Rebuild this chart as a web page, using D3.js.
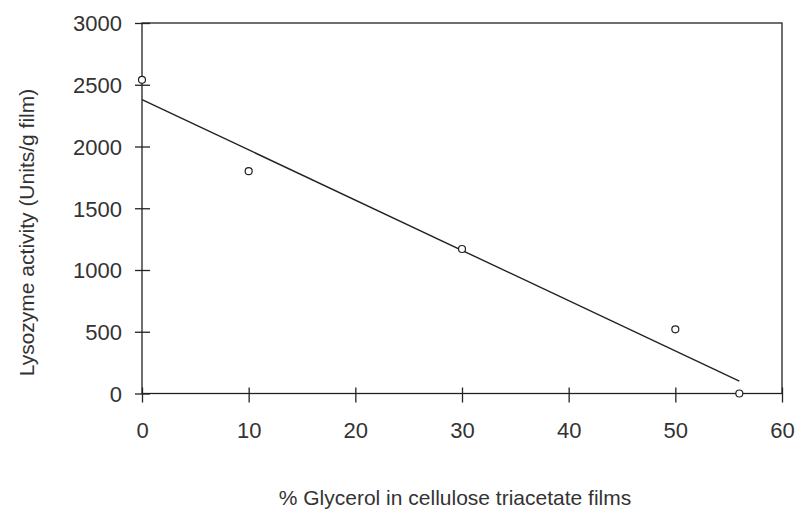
<!DOCTYPE html>
<html>
<head>
<meta charset="utf-8">
<script src="https://cdn.jsdelivr.net/npm/d3@7"></script>
<style>
  html, body { margin: 0; padding: 0; background: #fff; }
  svg { display: block; }
  text { font-family: "Liberation Sans", Arial, sans-serif; fill: #333; }
</style>
</head>
<body>
<svg id="chart" width="796" height="511"></svg>
<script>
// Data
const glycerol = [0, 10, 30, 50, 56];
const activity = [2540, 1800, 1170, 520, 0];
const trendX = [0, 56];
const trendY = [2380, 100];
const xTicks = [0, 10, 20, 30, 40, 50, 60];
const yTicks = [0, 500, 1000, 1500, 2000, 2500, 3000];
const xTitle = "% Glycerol in cellulose triacetate films";
const yTitle = "Lysozyme activity (Units/g film)";

(function () {
const svg = d3.select("#chart");
const mLeft = 142, mRight = 782, mTop = 23, mBottom = 393.5;
const x = d3.scaleLinear().domain([0, 60]).range([mLeft, mRight]);
const y = d3.scaleLinear().domain([0, 3000]).range([mBottom, mTop]);
const stroke = "#222";
const fam = "Liberation Sans, Arial, sans-serif";

// frame
svg.append("rect")
  .attr("x", mLeft).attr("y", mTop)
  .attr("width", mRight - mLeft).attr("height", mBottom - mTop)
  .attr("fill", "none").attr("stroke", stroke).attr("stroke-width", 1.3);

// y axis
const yAxis = svg.append("g").attr("transform", `translate(${mLeft},0)`)
  .call(d3.axisLeft(y).tickValues(yTicks).tickSizeInner(7).tickSizeOuter(0).tickPadding(13).tickFormat(d3.format("d")));
yAxis.select(".domain").remove();
yAxis.selectAll(".tick line").attr("x2", 8).attr("x1", -7).attr("stroke", stroke).attr("stroke-width", 1.3);
yAxis.selectAll(".tick text").attr("font-size", 22).attr("fill", "#333").attr("font-family", fam).attr("dy", "0.36em");

// x axis
const xAxis = svg.append("g").attr("transform", `translate(0,${mBottom})`)
  .call(d3.axisBottom(x).tickValues(xTicks).tickSizeInner(9).tickSizeOuter(0).tickPadding(20).tickFormat(d3.format("d")));
xAxis.select(".domain").remove();
xAxis.selectAll(".tick line").attr("y1", -6).attr("y2", 9).attr("stroke", stroke).attr("stroke-width", 1.3);
xAxis.selectAll(".tick text").attr("font-size", 22).attr("fill", "#333").attr("font-family", fam);

// trend line
svg.append("line")
  .attr("x1", x(trendX[0])).attr("y1", y(trendY[0]))
  .attr("x2", x(trendX[1])).attr("y2", y(trendY[1]))
  .attr("stroke", stroke).attr("stroke-width", 1.4);

// points
svg.append("g").selectAll("circle")
  .data(glycerol.map((g, i) => [g, activity[i]]))
  .join("circle")
  .attr("cx", d => x(d[0])).attr("cy", d => y(d[1]))
  .attr("r", 3.5)
  .attr("fill", "#fff").attr("stroke", stroke).attr("stroke-width", 1.2);

// titles
svg.append("text")
  .attr("x", 455).attr("y", 505)
  .attr("text-anchor", "middle").attr("font-size", 21)
  .text(xTitle);
svg.append("text")
  .attr("transform", `translate(34,${(85 + 380) / 2}) rotate(-90)`)
  .attr("text-anchor", "middle").attr("font-size", 21)
  .text(yTitle);
})();
</script>
</body>
</html>
